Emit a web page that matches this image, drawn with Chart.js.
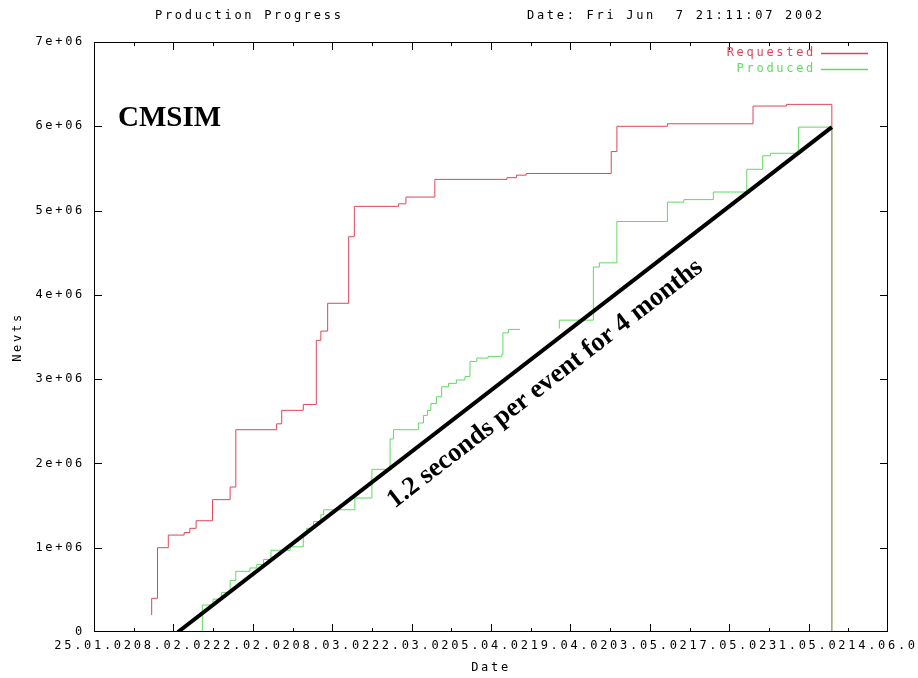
<!DOCTYPE html>
<html><head><meta charset="utf-8">
<script src="https://cdn.jsdelivr.net/npm/chart.js@4.4.0/dist/chart.umd.min.js"></script>
<style>html,body{margin:0;padding:0;background:#fff;}#wrap{width:918px;height:678px;}</style>
</head><body><div id="wrap"><canvas id="c" width="918" height="678"></canvas></div>
<script>
// ---- data ----
const chartTitle = 'Production Progress';
const chartDate = 'Date: Fri Jun  7 21:11:07 2002';
const xTickDays = [0, 14, 28, 42, 56, 70, 84, 98, 112, 126, 140];
const xTickLabels = ['25.01.02','08.02.02','22.02.02','08.03.02','22.03.02','05.04.02','19.04.02','03.05.02','17.05.02','31.05.02','14.06.02'];
const yTickValues = [0, 1e6, 2e6, 3e6, 4e6, 5e6, 6e6, 7e6];
const yTickLabels = ['0','1e+06','2e+06','3e+06','4e+06','5e+06','6e+06','7e+06'];

const requestedDays = [10.17, 10.17, 11.2, 13.1, 15.9, 16.9, 18.0, 20.9, 24.0, 25.0, 32.2, 33.1, 36.9, 39.2, 40.0, 41.2, 44.9, 45.9, 53.7, 55.0, 60.1, 72.8, 74.5, 76.2, 91.2, 92.2, 101.1, 116.2, 122.1, 130.1];
const requestedEvents = [0.20e6, 0.40e6, 1.00e6, 1.15e6, 1.18e6, 1.23e6, 1.32e6, 1.57e6, 1.72e6, 2.40e6, 2.47e6, 2.63e6, 2.70e6, 3.46e6, 3.57e6, 3.90e6, 4.69e6, 5.05e6, 5.08e6, 5.16e6, 5.37e6, 5.39e6, 5.42e6, 5.44e6, 5.70e6, 6.00e6, 6.03e6, 6.24e6, 6.26e6, 0];

const producedDays = [10.17, 19.1, 21.0, 22.5, 24.0, 25.0, 27.5, 28.7, 29.9, 31.2, 34.6, 36.9, 37.5, 38.7, 40.0, 40.5, 46.0, 49.0, 52.2, 52.8, 57.2, 58.1, 58.8, 59.4, 60.4, 61.3, 62.5, 63.9, 65.4, 66.3, 67.5, 69.5, 71.9, 72.1, 73.1, 75.1, 78.5, 82.05, 82.05, 88.05, 89.1, 92.2, 101.1, 104.0, 109.2, 115.1, 117.9, 119.3, 124.2, 130.1, 130.1];
const producedEvents = [0, 0.32e6, 0.39e6, 0.47e6, 0.61e6, 0.72e6, 0.76e6, 0.80e6, 0.86e6, 0.97e6, 1.01e6, 1.15e6, 1.23e6, 1.31e6, 1.39e6, 1.45e6, 1.59e6, 1.93e6, 2.29e6, 2.40e6, 2.48e6, 2.57e6, 2.63e6, 2.71e6, 2.79e6, 2.91e6, 2.95e6, 2.99e6, 3.03e6, 3.21e6, 3.25e6, 3.27e6, 3.29e6, 3.55e6, 3.59e6, 3.59e6, null, 3.60e6, 3.70e6, 4.33e6, 4.38e6, 4.87e6, 5.10e6, 5.13e6, 5.22e6, 5.49e6, 5.65e6, 5.68e6, 5.99e6, 5.99e6, 0];

const fitDays = [14.8, 130.1];
const fitEvents = [0, 5.99e6];

const seriesNames = ['Requested', 'Produced'];
const cmsLabel = 'CMSIM';
const fitLabel = '1.2 seconds per event for 4 months';

// ---- styles ----
const RED = 'rgb(222,70,88)';
const GREEN = 'rgb(96,218,96)';
const MONO = '"DejaVu Sans Mono", monospace';
const SPACING = '2.7px';

const toPts = (xs, ys) => xs.map((x, i) => ({x: x, y: ys[i]}));

const decor = {
  id: 'decor',
  beforeLayout(chart) { chart.ctx.letterSpacing = SPACING; },
  beforeDraw(chart) { chart.ctx.letterSpacing = SPACING; },
  afterDraw(chart) {
    const {ctx, chartArea: a, scales: {x, y}} = chart;
    ctx.save();
    ctx.letterSpacing = SPACING;
    // frame
    ctx.strokeStyle = '#000'; ctx.lineWidth = 1;
    ctx.strokeRect(Math.round(a.left) + 0.5, Math.round(a.top) + 0.5, Math.round(a.right - a.left) - 1, Math.round(a.bottom - a.top) - 1);
    ctx.beginPath();
    for (let d = 7; d < 140; d += 7) {
      const px = Math.round(x.getPixelForValue(d)) + 0.5;
      const len = d % 14 === 0 ? 8 : 4;
      ctx.moveTo(px, a.bottom); ctx.lineTo(px, a.bottom - len);
      ctx.moveTo(px, a.top); ctx.lineTo(px, a.top + len);
    }
    for (let i = 1; i < yTickValues.length - 1; i++) {
      const py = Math.round(y.getPixelForValue(yTickValues[i])) + 0.5;
      ctx.moveTo(a.left, py); ctx.lineTo(a.left + 8, py);
      ctx.moveTo(a.right, py); ctx.lineTo(a.right - 8, py);
    }
    ctx.stroke();
    // header
    ctx.fillStyle = '#000';
    ctx.font = '12px ' + MONO;
    ctx.textBaseline = 'middle'; ctx.textAlign = 'left';
    ctx.fillText(chartTitle, 155, 16);
    ctx.fillText(chartDate, 527, 16);
    // legend
    const cols = [RED, GREEN];
    seriesNames.forEach((n, i) => {
      const ly = a.top + 11 + i * 16;
      ctx.fillStyle = cols[i];
      ctx.textAlign = 'right';
      ctx.fillText(n, a.right - 72, ly);
      ctx.beginPath();
      ctx.strokeStyle = cols[i]; ctx.lineWidth = 1.5;
      ctx.moveTo(a.right - 67, ly + 0.5); ctx.lineTo(a.right - 20, ly + 0.5);
      ctx.stroke();
    });
    // annotations
    ctx.letterSpacing = '0px';
    ctx.fillStyle = '#000';
    ctx.textAlign = 'left'; ctx.textBaseline = 'alphabetic';
    ctx.font = 'bold 29px "Liberation Serif", serif';
    ctx.fillText(cmsLabel, a.left + 24, a.top + 84);
    const x0 = x.getPixelForValue(fitDays[0]), y0 = y.getPixelForValue(fitEvents[0]);
    const x1 = x.getPixelForValue(fitDays[1]), y1 = y.getPixelForValue(fitEvents[1]);
    const ang = Math.atan2(y1 - y0, x1 - x0);
    const ux = Math.cos(ang), uy = Math.sin(ang);
    const nx = -uy, ny = ux;
    const along = 247, perp = 28;
    ctx.translate(x0 + ux * along + nx * perp, y0 + uy * along + ny * perp);
    ctx.rotate(ang);
    ctx.font = 'bold 26.6px "Liberation Serif", serif';
    ctx.textBaseline = 'middle';
    ctx.fillText(fitLabel, 0, 0);
    ctx.restore();
  }
};

new Chart(document.getElementById('c'), {
  type: 'line',
  data: {
    datasets: [
      {label: 'fit', data: toPts(fitDays, fitEvents), borderColor: '#000', borderWidth: 4, pointRadius: 0, order: 0, borderCapStyle: 'butt'},
      {label: seriesNames[1], data: toPts(producedDays, producedEvents), borderColor: GREEN, borderWidth: 1, pointRadius: 0, stepped: 'before', spanGaps: false, order: 1},
      {label: seriesNames[0], data: toPts(requestedDays, requestedEvents), borderColor: RED, borderWidth: 1, pointRadius: 0, stepped: 'before', order: 2}
    ]
  },
  options: {
    responsive: false, animation: false, devicePixelRatio: 1,
    layout: {padding: {top: 42, right: 30, left: 0, bottom: 0}},
    plugins: {legend: {display: false}, tooltip: {enabled: false}},
    scales: {
      x: {
        type: 'linear', min: 0, max: 140,
        afterBuildTicks: s => { s.ticks = xTickDays.map(v => ({value: v})); },
        afterFit: s => { s.height = 46; s.paddingLeft = 0; s.paddingRight = 0; },
        ticks: {autoSkip: false, maxRotation: 0, minRotation: 0, padding: 7, color: '#000',
          font: {family: MONO, size: 12},
          callback: (v) => { const i = xTickDays.indexOf(v); return i >= 0 ? xTickLabels[i] : ''; }},
        grid: {display: false, drawTicks: false},
        border: {display: false},
        title: {display: true, text: 'Date', color: '#000', font: {family: MONO, size: 12}, padding: {top: 0, bottom: 3}}
      },
      y: {
        type: 'linear', min: 0, max: 7e6,
        afterBuildTicks: s => { s.ticks = yTickValues.map(v => ({value: v})); },
        afterFit: s => { s.width = 94; s.paddingTop = 0; s.paddingBottom = 0; },
        ticks: {padding: 9, color: '#000', font: {family: MONO, size: 12},
          callback: (v) => { const i = yTickValues.indexOf(v); return i >= 0 ? yTickLabels[i] : ''; }},
        grid: {display: false, drawTicks: false},
        border: {display: false},
        title: {display: true, text: 'Nevts', color: '#000', font: {family: MONO, size: 12}, padding: {top: 11, bottom: 0}}
      }
    }
  },
  plugins: [decor]
});
</script></body></html>
